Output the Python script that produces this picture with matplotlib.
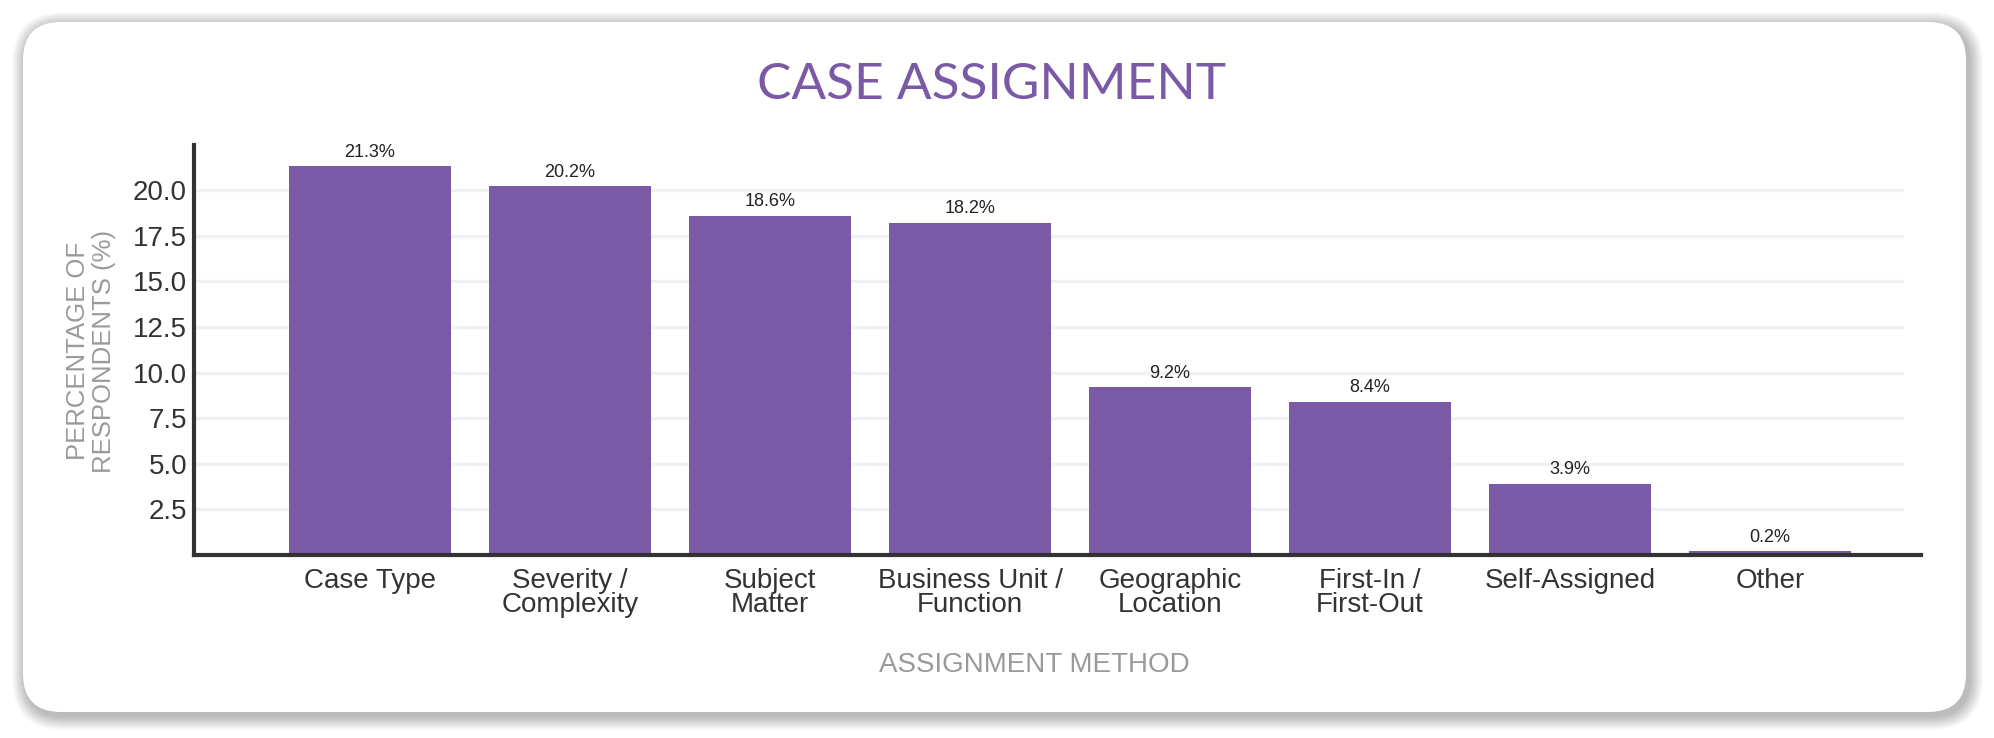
import matplotlib
matplotlib.use("Agg")
import matplotlib.pyplot as plt
from matplotlib.patches import FancyBboxPatch

categories = ["Case Type", "Severity /\nComplexity", "Subject\nMatter",
              "Business Unit /\nFunction", "Geographic\nLocation",
              "First-In /\nFirst-Out", "Self-Assigned", "Other"]
values = [21.3, 20.2, 18.6, 18.2, 9.2, 8.4, 3.9, 0.2]
value_labels = ["21.3%", "20.2%", "18.6%", "18.2%", "9.2%", "8.4%", "3.9%", "0.2%"]
yticks = [2.5, 5.0, 7.5, 10.0, 12.5, 15.0, 17.5, 20.0]
ytick_labels = ["2.5", "5.0", "7.5", "10.0", "12.5", "15.0", "17.5", "20.0"]

title = "CASE ASSIGNMENT"
xlabel = "ASSIGNMENT METHOD"
ylabel = "PERCENTAGE OF\nRESPONDENTS (%)"

PURPLE = "#7a5aa6"
DARK = "#333333"
GRAY = "#9a9a9a"
GRID = "#f0f1f4"

W, H = 1994, 738
fig = plt.figure(figsize=(W / 100, H / 100), dpi=100)
fig.patch.set_facecolor("white")
plt.rcParams["font.family"] = ["Liberation Sans", "DejaVu Sans"]

# background card with shadow
bg = fig.add_axes([0, 0, 1, 1], zorder=0)
bg.set_xlim(0, W)
bg.set_ylim(H, 0)
bg.axis("off")
cx0, cy0, cx1, cy1 = 23, 22, 1966, 712
R = 38
for i in range(14, 0, -1):
    sh = FancyBboxPatch((cx0 - i + 3, cy0 - i + 4), (cx1 - cx0) + 2 * i, (cy1 - cy0) + 2 * i,
                        boxstyle=f"round,pad=0,rounding_size={R + i}",
                        facecolor="black", edgecolor="none", alpha=0.02)
    bg.add_patch(sh)
card = FancyBboxPatch((cx0, cy0), cx1 - cx0, cy1 - cy0,
                      boxstyle=f"round,pad=0,rounding_size={R}",
                      facecolor="white", edgecolor="none")
bg.add_patch(card)

# main axes
left, right = 194 / W, 1921 / W
bottom, top = (H - 555) / H, (H - 145) / H
ax = fig.add_axes([left, bottom, right - left, top - bottom], zorder=1)
ax.patch.set_alpha(0)

x = list(range(len(categories)))
for v in yticks:
    ax.axhline(v, xmin=0, xmax=0.989, color=GRID, lw=2.4, zorder=0.5)
bars = ax.bar(x, values, width=0.81, color=PURPLE, zorder=2)
ax.bar_label(bars, labels=value_labels, padding=4, fontsize=13, color="#222222")

ax.set_xlim(-0.88, 7.755)
ax.set_ylim(0, 22.47)
ax.set_yticks(yticks)
ax.set_yticklabels(ytick_labels)
ax.set_xticks(x)
ax.set_xticklabels(categories, linespacing=0.9)
ax.tick_params(axis="both", length=0, labelsize=20, labelcolor=DARK)
ax.tick_params(axis="x", pad=9)
ax.tick_params(axis="y", pad=5)
for s in ["top", "right"]:
    ax.spines[s].set_visible(False)
for s in ["left", "bottom"]:
    ax.spines[s].set_color(DARK)
    ax.spines[s].set_linewidth(3)
    ax.spines[s].set_zorder(3)

fig.text(992 / W, (H - 99) / H, title, ha="center", va="baseline",
         fontsize=37, color=PURPLE, family=["Lato", "DejaVu Sans"])
fig.text(1034 / W, (H - 672) / H, xlabel, ha="center", va="baseline",
         fontsize=20, color=GRAY)
fig.text(91 / W, (H - 351) / H, ylabel, ha="center", va="center", rotation=90,
         fontsize=18.5, color=GRAY, multialignment="center", linespacing=1.15)

fig.savefig("out.png", dpi=100, facecolor="white")
